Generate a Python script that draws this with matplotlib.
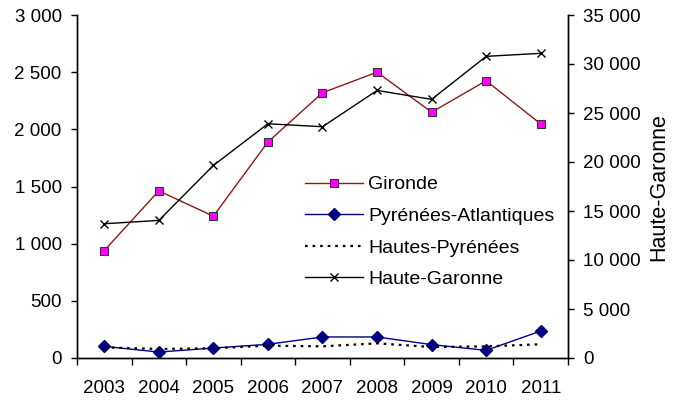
import matplotlib
matplotlib.use("Agg")
import matplotlib.pyplot as plt
from matplotlib.ticker import FuncFormatter, FixedLocator

plt.rcParams["font.family"] = ["Liberation Sans", "DejaVu Sans"]

years = [2003, 2004, 2005, 2006, 2007, 2008, 2009, 2010, 2011]
gironde = [940, 1462, 1240, 1890, 2320, 2500, 2150, 2425, 2047]
pyr_atlantiques = [102, 52, 87, 120, 184, 184, 117, 67, 236]
hautes_pyrenees = [93, 79, 85, 108, 102, 128, 96, 102, 120]
haute_garonne = [13700, 14040, 19650, 23900, 23600, 27300, 26390, 30780, 31090]


def fr_thousands(v, pos):
    return f"{int(v):,}".replace(",", " ")


fig = plt.figure(figsize=(6.8, 4.01), dpi=100)
ax = fig.add_axes([77 / 680, 1 - 358 / 401, (568 - 77) / 680, (358 - 15) / 401])
ax2 = ax.twinx()

l1, = ax.plot(years, gironde, color="#8B1A1A", linewidth=1, marker="s", markersize=6,
              markerfacecolor="#FF00FF", markeredgecolor="#333333", markeredgewidth=0.8,
              label="Gironde")
l2, = ax.plot(years, pyr_atlantiques, color="#000080", linewidth=1, marker="D", markersize=6,
              markerfacecolor="#000080", markeredgecolor="#000080", label="Pyrénées-Atlantiques")
l3, = ax.plot(years, hautes_pyrenees, color="black", linewidth=1.6, linestyle=(0, (1.2, 2.2)),
              label="Hautes-Pyrénées")
l4, = ax2.plot(years, haute_garonne, color="black", linewidth=1, marker="x", markersize=6,
               markeredgewidth=1, label="Haute-Garonne")

ax.set_xlim(2002.5, 2011.5)
ax.set_ylim(0, 3000)
ax2.set_ylim(0, 35000)
ax.set_yticks(range(0, 3001, 500))
ax2.set_yticks(range(0, 35001, 5000))
ax.yaxis.set_major_formatter(FuncFormatter(fr_thousands))
ax2.yaxis.set_major_formatter(FuncFormatter(fr_thousands))

# ticks at category boundaries, labels centred on categories
ax.xaxis.set_major_locator(FixedLocator([y - 0.5 for y in years] + [years[-1] + 0.5]))
ax.xaxis.set_major_formatter(FuncFormatter(lambda v, p: ""))
ax.xaxis.set_minor_locator(FixedLocator(years))
ax.xaxis.set_minor_formatter(FuncFormatter(lambda v, p: str(int(round(v)))))
ax.tick_params(axis="x", which="major", direction="out", length=5, width=1)
ax.tick_params(axis="x", which="minor", length=0, pad=16, labelsize=13.5)
ax.tick_params(axis="y", direction="out", length=4, width=1, pad=7, labelsize=13.5)
ax2.tick_params(axis="y", direction="out", length=4, width=1, pad=7, labelsize=13.5)

for a in (ax, ax2):
    a.spines["top"].set_visible(False)
    for s in ("left", "right", "bottom"):
        a.spines[s].set_linewidth(1)

fig.text(659 / 680, 1 - 187 / 401, "Haute-Garonne", rotation=90, fontsize=15.5,
         ha="center", va="center")

ax2.legend(handles=[l1, l2, l3, l4], loc="center left",
           bbox_to_anchor=(305 / 680, 1 - 232 / 401), bbox_transform=fig.transFigure,
           frameon=False, fontsize=14, handlelength=3.0, handletextpad=0.25,
           labelspacing=0.72, borderpad=0, borderaxespad=0)

fig.savefig("out.png", dpi=100)
